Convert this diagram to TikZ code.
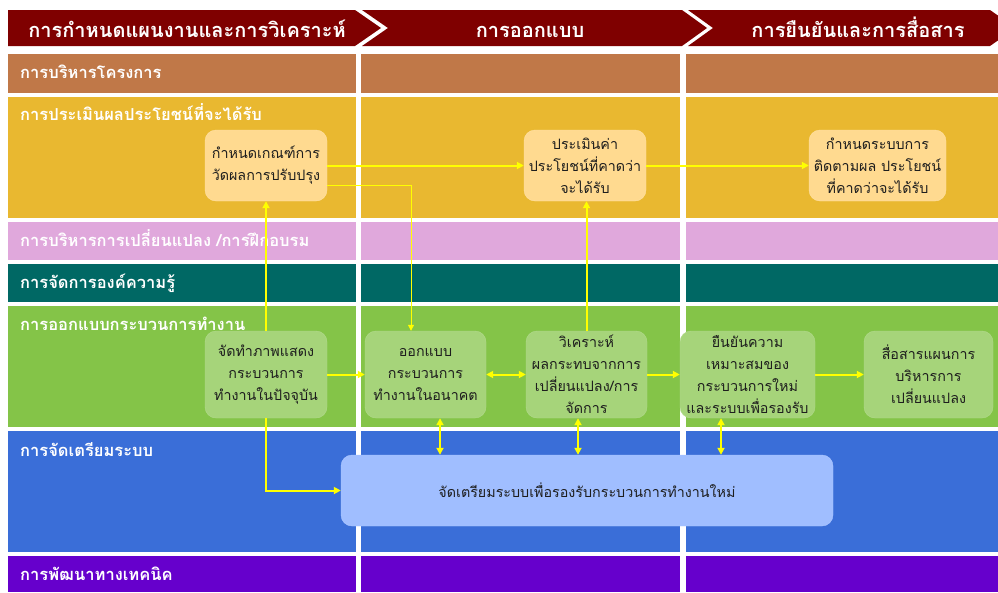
\documentclass[tikz,border=0pt]{standalone}
\usepackage{fontspec}
\newfontfamily\thai[Script=Thai]{Loma}
\usetikzlibrary{arrows.meta}
\definecolor{hdr}{HTML}{7F0000}
\definecolor{rA}{HTML}{C07848}
\definecolor{rB}{HTML}{E9B830}
\definecolor{rC}{HTML}{E0A8DC}
\definecolor{rD}{HTML}{006864}
\definecolor{rE}{HTML}{84C448}
\definecolor{rF}{HTML}{3A6ED8}
\definecolor{rG}{HTML}{6600CC}
\definecolor{bxA}{HTML}{FFDA90}
\definecolor{bxB}{HTML}{A6D47A}
\definecolor{bxC}{HTML}{A0BEFF}
\definecolor{txt}{HTML}{1E1E1E}
\definecolor{arr}{HTML}{FFFF00}
\tikzset{
  lanelabel/.style={anchor=base west,text=white,font=\thai\bfseries\fontsize{16.5}{20}\selectfont,inner sep=0pt},
  hdrtext/.style={anchor=base,text=white,font=\thai\bfseries\fontsize{20}{23}\selectfont,inner sep=0pt},
  box/.style={rounded corners=11pt,align=center,text=txt,inner sep=2pt,
    font=\thai\fontsize{14.3}{22}\selectfont},
  boxA/.style={box,fill=bxA,draw=bxA!80!white,minimum width=122pt,minimum height=71pt},
  boxB/.style={box,fill=bxB,draw=bxB!85!white,minimum height=87pt},
  boxC/.style={box,fill=bxC,draw=bxC!85!white},
  link/.style={draw=arr,line width=2pt,-{Triangle[length=7pt,width=7pt]}},
  thinlink/.style={draw=arr,line width=1pt,-{Triangle[length=6pt,width=6pt]}},
  duallink/.style={draw=arr,line width=2pt,{Triangle[length=7pt,width=7pt]}-{Triangle[length=7pt,width=7pt]}}
}
\begin{document}
\begin{tikzpicture}[x=1pt,y=-1pt]
\useasboundingbox (0,0) rectangle (998,592);
% header chevrons
\fill[hdr] (8,10) -- (355,10) -- (381,28) -- (355,46) -- (8,46) -- cycle;
\fill[hdr] (362,10) -- (682,10) -- (707,28) -- (682,46) -- (362,46) -- (388,28) -- cycle;
\fill[hdr] (688,10) -- (990,10) -- (998,15.6) -- (998,40.4) -- (990,46) -- (688,46) -- (713,28) -- cycle;
\node[hdrtext] (h1) at (187,37) {การกำหนดแผนงานและการวิเคราะห์};
\node[hdrtext] (h2) at (530,37) {การออกแบบ};
\node[hdrtext] (h3) at (858,37) {การยืนยันและการสื่อสาร};
% lanes
\foreach \c/\ya/\yb in {rA/54/93, rB/97/218, rC/222/260, rD/264/302, rE/306/427, rF/431/552, rG/556/592}{
  \fill[\c] (8,\ya) rectangle (356,\yb);
  \fill[\c] (361,\ya) rectangle (680,\yb);
  \fill[\c] (686,\ya) rectangle (998,\yb);
}
\node[lanelabel] (l1) at (20,78) {การบริหารโครงการ};
\node[lanelabel] (l2) at (20,120) {การประเมินผลประโยชน์ที่จะได้รับ};
\node[lanelabel] (l3) at (20,246) {การบริหารการเปลี่ยนแปลง /การฝึกอบรม};
\node[lanelabel] (l4) at (20,288) {การจัดการองค์ความรู้};
\node[lanelabel] (l5) at (20,330) {การออกแบบกระบวนการทำงาน};
\node[lanelabel] (l6) at (20,456) {การจัดเตรียมระบบ};
\node[lanelabel] (l7) at (20,580) {การพัฒนาทางเทคนิค};
% boxes
\node[boxA] (b1) at (266,165.5) {กำหนดเกณฑ์การ\\วัดผลการปรับปรุง};
\node[boxA] (b2) at (585,165.5) {ประเมินค่า\\ประโยชน์ที่คาดว่า\\จะได้รับ};
\node[boxA,minimum width=137pt] (b3) at (877.5,165.5) {กำหนดระบบการ\\ติดตามผล ประโยชน์\\ที่คาดว่าจะได้รับ};
\node[boxB,minimum width=122pt] (b4) at (266,374.5) {จัดทำภาพแสดง\\กระบวนการ\\ทำงานในปัจจุบัน};
\node[boxB,minimum width=121pt] (b5) at (425.5,374.5) {ออกแบบ\\กระบวนการ\\ทำงานในอนาคต};
\node[boxB,minimum width=121pt] (b6) at (586.5,374.5) {วิเคราะห์\\ผลกระทบจากการ\\เปลี่ยนแปลง/การ\\จัดการ};
\node[boxB,minimum width=135pt] (b7) at (747.5,374.5) {ยืนยันความ\\เหมาะสมของ\\กระบวนการใหม่\\และระบบเพื่อรองรับ};
\node[boxB,minimum width=129pt] (b8) at (928.5,374.5) {สื่อสารแผนการ\\บริหารการ\\เปลี่ยนแปลง};
\node[boxC,minimum width=492pt,minimum height=71pt] (b9) at (587,490.5) {จัดเตรียมระบบเพื่อรองรับกระบวนการทำงานใหม่};
% connectors
\coordinate (c1) at (411,185);
\coordinate (x5) at (440,0);
\coordinate (x6) at (578,0);
\coordinate (x7) at (721,0);
\draw[link] (b1) -- (b2);
\draw[link] (b2) -- (b3);
\draw[thinlink] (b1.east |- c1) -- (c1) -- (c1 |- b5.north);
\draw[link] (b4.north) -- (b1.south);
\draw[link] (b4.south) |- (b9.west);
\draw[link] (b6.north) -- (b6.north |- b2.south);
\draw[link] (b4) -- (b5);
\draw[duallink] (b5) -- (b6);
\draw[link] (b6) -- (b7);
\draw[link] (b7) -- (b8);
\draw[duallink] (x5 |- b5.south) -- (x5 |- b9.north);
\draw[duallink] (x6 |- b6.south) -- (x6 |- b9.north);
\draw[duallink] (x7 |- b7.south) -- (x7 |- b9.north);
\end{tikzpicture}
\end{document}
